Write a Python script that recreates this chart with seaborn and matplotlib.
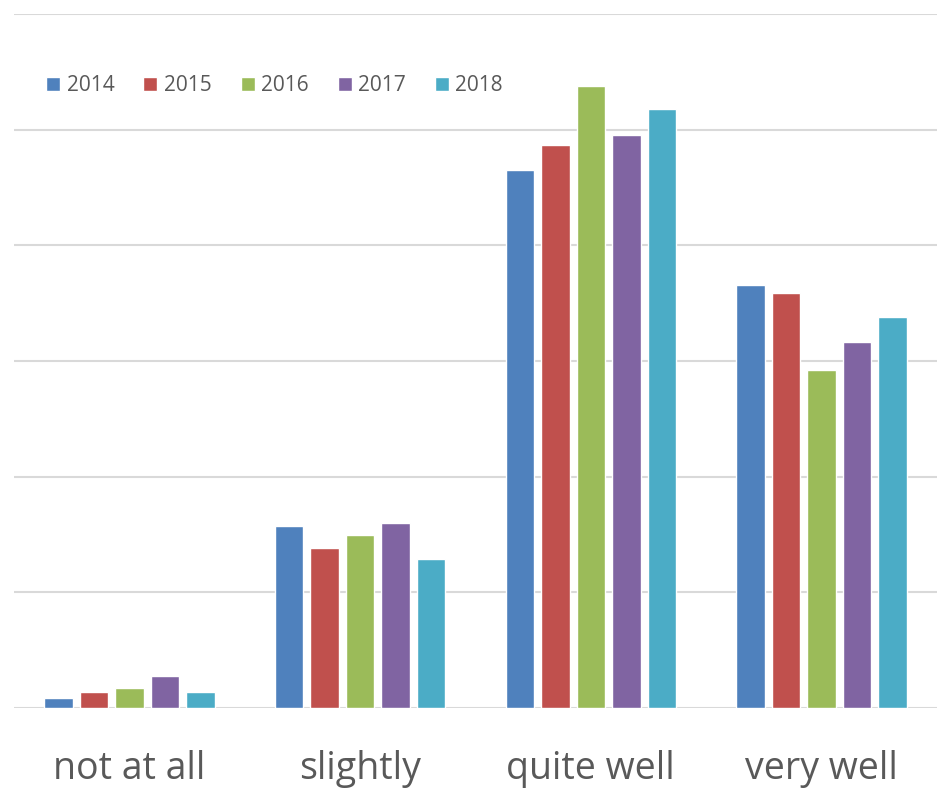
import numpy as np
import pandas as pd
import matplotlib
matplotlib.use("Agg")
import matplotlib.pyplot as plt
import seaborn as sns

# values (percent of respondents)
categories = ["not at all", "slightly", "quite well", "very well"]
years = ["2014", "2015", "2016", "2017", "2018"]
pct_2014 = [0.9, 15.7, 46.5, 36.6]
pct_2015 = [1.4, 13.8, 48.7, 35.9]
pct_2016 = [1.7, 15.0, 53.8, 29.2]
pct_2017 = [2.8, 16.0, 49.5, 31.6]
pct_2018 = [1.4, 12.9, 51.8, 33.8]
palette = ["#4F81BD", "#C0504D", "#9BBB59", "#8064A2", "#4BACC6"]

rows = []
for yr, vals in zip(years, [pct_2014, pct_2015, pct_2016, pct_2017, pct_2018]):
    for cat, v in zip(categories, vals):
        rows.append({"category": cat, "year": yr, "pct": v})
df = pd.DataFrame(rows)

sns.set_style("white")
plt.rcParams["font.family"] = ["Open Sans", "DejaVu Sans"]

fig = plt.figure(figsize=(9.41, 7.93), dpi=100)
ax = fig.add_axes([14 / 941, 85 / 793, 923 / 941, 694 / 793])

sns.barplot(data=df, x="category", y="pct", hue="year", order=categories,
            hue_order=years, palette=palette, width=0.77, gap=0.2,
            saturation=1, ax=ax, legend=True)

ax.set_ylim(0, 60)
ax.set_xlim(-0.5, 3.5)
ax.set_yticks(np.arange(0, 61, 10))
ax.yaxis.grid(True, color="#D9D9D9", linewidth=1.5)
ax.set_axisbelow(True)
ax.set_yticklabels([])
ax.tick_params(axis="y", length=0)
ax.tick_params(axis="x", length=0, pad=30, labelsize=27, labelcolor="#595959")
ax.set_xlabel("")
ax.set_ylabel("")
for s in ax.spines.values():
    s.set_visible(False)

leg = ax.legend(loc="center left", bbox_to_anchor=(0.026, 0.897), ncol=5,
                frameon=False, fontsize=15, handlelength=0.67, handleheight=0.67,
                handletextpad=0.3, columnspacing=1.4, borderaxespad=0)
for t in leg.get_texts():
    t.set_color("#595959")

fig.savefig("out.png", dpi=100)
